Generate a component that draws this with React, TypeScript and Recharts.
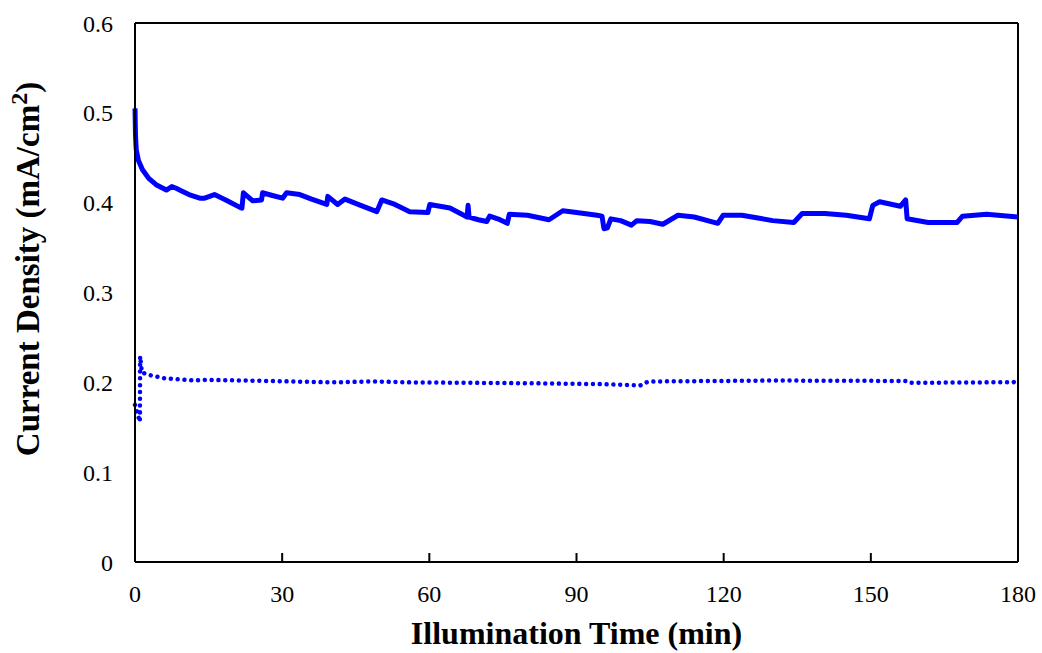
import { LineChart, Line, XAxis, YAxis, ReferenceLine } from 'recharts'

// solid trace (upper curve), time in min / current density in mA/cm2
const solidTime = [
  0, 0.1, 0.25, 0.7, 1.5, 2.8, 4.3, 6.4, 7.5, 8.4,
  9.5, 11, 13.2, 14.2, 16.2, 18.5, 21.3, 21.8, 22.1, 24,
  25.8, 26, 28, 30.1, 30.9, 33.6, 36, 39.1, 39.3, 41.3,
  42.8, 46, 49.3, 50.3, 53, 56, 59.7, 60.1, 64.2, 67.7,
  67.9, 68.1, 70, 71.7, 72.3, 74.4, 75.9, 76.3, 80, 84.4,
  87.2, 90, 94.2, 95.2, 95.6, 96.3, 97, 99, 101.2, 102.3,
  105, 107.6, 110.7, 114, 118.8, 119.9, 123.7, 127, 130, 134.3,
  136, 140.6, 145, 149.7, 150.4, 151.8, 156, 157.1, 157.4, 161.7,
  167.6, 168.7, 173.6, 180,
]
const solidDensity = [
  0.505, 0.475, 0.459, 0.447, 0.437, 0.427, 0.42, 0.414, 0.418, 0.416,
  0.413, 0.409, 0.405, 0.405, 0.409, 0.403, 0.395, 0.394, 0.411, 0.402,
  0.403, 0.411, 0.408, 0.405, 0.411, 0.409, 0.404, 0.398, 0.407, 0.398,
  0.404, 0.397, 0.39, 0.403, 0.398, 0.39, 0.389, 0.398, 0.394, 0.384,
  0.397, 0.384, 0.381, 0.379, 0.385, 0.381, 0.377, 0.387, 0.386, 0.381,
  0.391, 0.389, 0.386, 0.385, 0.371, 0.372, 0.382, 0.38, 0.375, 0.38,
  0.379, 0.376, 0.386, 0.384, 0.377, 0.386, 0.386, 0.383, 0.38, 0.378,
  0.388, 0.388, 0.386, 0.382, 0.397, 0.401, 0.396, 0.403, 0.382, 0.378,
  0.378, 0.385, 0.387, 0.384,
]

// dotted trace (lower curve)
const dottedTime = [
  0, 1.0, 1.05, 1.4, 3, 6, 12, 14.5, 23, 40,
  49, 55, 80, 95, 103, 104.5, 106, 130, 157.5, 158.2,
  175, 179, 180,
]
const dottedDensity = [
  0.175, 0.156, 0.229, 0.211, 0.208, 0.2045, 0.202, 0.2027, 0.202, 0.2,
  0.201, 0.2, 0.199, 0.198, 0.1965, 0.2005, 0.201, 0.202, 0.2015, 0.1995,
  0.2, 0.2, 0.202,
]

const xTicks = [0, 30, 60, 90, 120, 150, 180]
const yTicks = [0, 0.1, 0.2, 0.3, 0.4, 0.5, 0.6]

const FONT = '"Liberation Serif", "Times New Roman", serif'

const solidData = solidTime.map((t, i) => ({ t, v: solidDensity[i] }))
const dottedData = dottedTime.map((t, i) => ({ t, v: dottedDensity[i] }))

// tick marks point inward (up into the plot), label sits below
const XTick = ({ x, y, payload }: any) => (
  <g>
    <line x1={x} x2={x} y1={y} y2={y - 9} stroke="#000" strokeWidth={2} />
    <text x={x} y={y + 40} textAnchor="middle" fontSize={24} fontFamily={FONT} fill="#000">
      {payload.value}
    </text>
  </g>
)

export default function App() {
  return (
    <div style={{ position: 'absolute', left: 0, top: 0, background: '#fff' }}>
      <LineChart width={1042} height={653} margin={{ top: 23, right: 24, bottom: 0, left: 0 }}>
        <XAxis
          type="number"
          dataKey="t"
          domain={[0, 180]}
          ticks={xTicks}
          height={91}
          tickLine={false}
          tickSize={0}
          tickMargin={0}
          axisLine={{ stroke: '#000', strokeWidth: 2 }}
          tick={<XTick />}
          allowDuplicatedCategory={false}
          label={{
            content: ({ viewBox }: any) => (
              <text
                x={viewBox.x + viewBox.width / 2}
                y={viewBox.y + 82}
                textAnchor="middle"
                fontSize={32}
                fontWeight="bold"
                fontFamily={FONT}
                fill="#000"
              >
                Illumination Time (min)
              </text>
            ),
          }}
        />
        <YAxis
          type="number"
          domain={[0, 0.6]}
          ticks={yTicks}
          width={135}
          tickLine={false}
          tickSize={0}
          tickMargin={22}
          axisLine={{ stroke: '#000', strokeWidth: 2 }}
          tick={{ fill: '#000', fontSize: 24, fontFamily: FONT }}
          tickFormatter={(v: number) => (v === 0 ? '0' : v.toFixed(1))}
          label={{
            content: () => (
              <text
                x={39}
                y={269}
                transform="rotate(-90, 39, 269)"
                textAnchor="middle"
                fontSize={33}
                fontWeight="bold"
                fontFamily={FONT}
                fill="#000"
              >
                Current Density (mA/cm
                <tspan fontSize={24} dy={-12}>2</tspan>
                <tspan dy={12}>)</tspan>
              </text>
            ),
          }}
        />
        {/* top and right frame */}
        <ReferenceLine y={0.6} stroke="#000" strokeWidth={2} />
        <ReferenceLine x={180} stroke="#000" strokeWidth={2} />
        <Line
          data={dottedData}
          dataKey="v"
          type="linear"
          stroke="#0000ff"
          strokeWidth={4.5}
          strokeLinecap="round"
          strokeDasharray="0.01 6.8"
          dot={false}
          isAnimationActive={false}
        />
        <Line
          data={solidData}
          dataKey="v"
          type="linear"
          stroke="#0000ff"
          strokeWidth={5}
          strokeLinejoin="round"
          dot={false}
          isAnimationActive={false}
        />
      </LineChart>
    </div>
  )
}
